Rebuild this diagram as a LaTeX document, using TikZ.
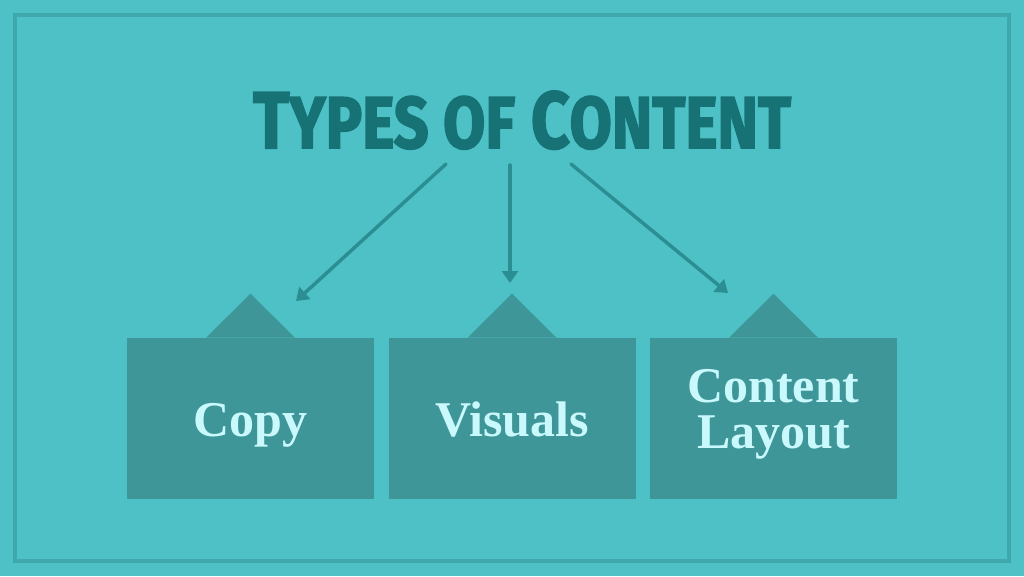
\documentclass[tikz,border=0pt]{standalone}
\usepackage{fontspec}
\usepackage{graphicx}
\usetikzlibrary{calc,arrows.meta}
\newfontfamily\headfont[FakeBold=2.5]{Fira Sans Bold}
\newfontfamily\cardfont{Liberation Serif}
\definecolor{bg}{HTML}{4DC1C5}
\definecolor{framec}{HTML}{3EA8AC}
\definecolor{card}{HTML}{3F9699}
\definecolor{cardtext}{HTML}{C9F9FC}
\definecolor{headc}{HTML}{177276}
\definecolor{arrowc}{HTML}{2B8E93}
\tikzset{
  frame/.style={draw=framec, line width=2.6pt},
  card/.style={rectangle, fill=card, minimum width=185.25pt, minimum height=120.75pt, inner sep=0pt},
  tab/.style={fill=card},
  cardlabel/.style={text=cardtext, inner sep=0pt, anchor=base, font=\cardfont\bfseries\fontsize{37.5}{37.5}\selectfont},
  heading/.style={text=headc, inner sep=0pt, anchor=base},
  pointer/.style={-{Triangle[length=9pt,width=12pt]}, draw=arrowc, line width=2.6pt, line cap=round}
}

\begin{document}
\begin{tikzpicture}[x=0.75pt,y=-0.75pt]
  \useasboundingbox (0,0) rectangle (1024,576);
  \fill[bg] (0,0) rectangle (1024,576);
  \draw[frame] (15,15) rectangle (1009,561);

  % heading
  \node[heading] (title) at (522,148)
    {\resizebox{403.5pt}{42.75pt}{\headfont\fontsize{60}{60}\selectfont
      T{\fontsize{54.6}{54.6}\selectfont YPES OF} C{\fontsize{54.6}{54.6}\selectfont ONTENT}}};

  % cards
  \node[card] (copycard) at (250.5,418.5) {};
  \node[card] (visualscard) at (512,418.5) {};
  \node[card] (layoutcard) at (773.5,418.5) {};

  % tabs on top of the cards
  \fill[tab] ($(copycard.north)+(-44.5,0)$) -- ($(copycard.north)+(0,-44)$) -- ($(copycard.north)+(44.5,0)$) -- cycle;
  \fill[tab] ($(visualscard.north)+(-44.5,0)$) -- ($(visualscard.north)+(0,-44)$) -- ($(visualscard.north)+(44.5,0)$) -- cycle;
  \fill[tab] ($(layoutcard.north)+(-44.5,0)$) -- ($(layoutcard.north)+(0,-44)$) -- ($(layoutcard.north)+(44.5,0)$) -- cycle;

  \node[cardlabel] (copy) at (250.5,436) {Copy};
  \node[cardlabel] (visuals) at (512,436) {Visuals};
  \node[cardlabel] (content) at (773.5,402) {Content};
  \node[cardlabel] (layout) at (773.5,448) {Layout};

  % arrow ends
  \coordinate (aimcopy) at (296,301);
  \coordinate (aimvisuals) at (510,283);
  \coordinate (aimlayout) at (728,293);

  \draw[pointer] ($(title.base)+(-76,16)$) -- (aimcopy);
  \draw[pointer] ($(title.base)+(-12,17)$) -- (aimvisuals);
  \draw[pointer] ($(title.base)+(49,16)$) -- (aimlayout);
\end{tikzpicture}
\end{document}
